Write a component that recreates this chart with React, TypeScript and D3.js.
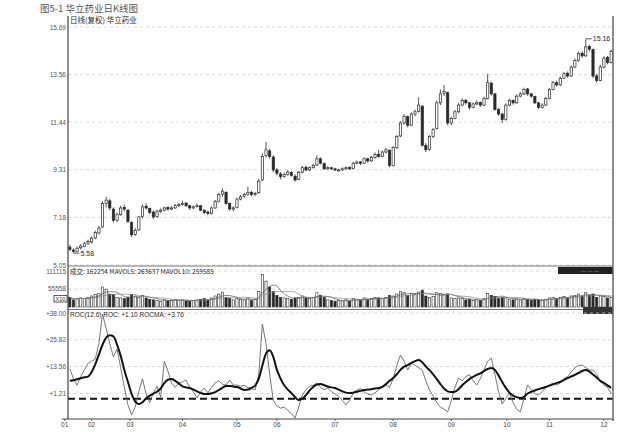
import React from "react";
import * as d3 from "d3";

// [open, high, low, close]
const ohlc: [number, number, number, number][] = [
  [5.85, 5.95, 5.68, 5.75], [5.72, 5.80, 5.58, 5.65], [5.65, 5.88, 5.62, 5.80], [5.82, 5.98, 5.75, 5.90],
  [5.88, 6.08, 5.84, 6.00], [6.02, 6.18, 5.95, 6.10], [6.08, 6.32, 6.02, 6.25], [6.26, 6.58, 6.20, 6.50],
  [6.48, 6.80, 6.42, 6.70], [6.75, 7.90, 6.70, 7.80], [7.80, 8.10, 7.62, 7.95], [7.92, 8.00, 7.50, 7.60],
  [7.55, 7.62, 6.95, 7.05], [7.05, 7.40, 6.98, 7.30], [7.30, 7.70, 7.25, 7.60], [7.62, 7.75, 7.45, 7.55],
  [7.50, 7.55, 6.92, 7.00], [6.95, 7.00, 6.30, 6.40], [6.42, 6.70, 6.35, 6.60], [6.62, 7.25, 6.58, 7.20],
  [7.22, 7.75, 7.15, 7.65], [7.68, 7.80, 7.52, 7.60], [7.58, 7.62, 7.32, 7.40], [7.42, 7.48, 7.10, 7.20],
  [7.22, 7.52, 7.15, 7.45], [7.45, 7.58, 7.38, 7.50], [7.50, 7.66, 7.45, 7.60], [7.62, 7.68, 7.48, 7.55],
  [7.55, 7.68, 7.50, 7.60], [7.60, 7.78, 7.56, 7.70], [7.70, 7.82, 7.64, 7.75], [7.76, 7.92, 7.70, 7.80],
  [7.82, 7.85, 7.64, 7.70], [7.70, 7.74, 7.52, 7.60], [7.60, 7.72, 7.55, 7.65], [7.66, 7.80, 7.62, 7.70],
  [7.70, 7.72, 7.45, 7.50], [7.50, 7.55, 7.32, 7.40], [7.42, 7.48, 7.28, 7.35], [7.35, 7.66, 7.30, 7.60],
  [7.60, 7.96, 7.56, 7.90], [7.90, 8.28, 7.85, 8.20], [8.22, 8.48, 8.10, 8.35], [8.30, 8.34, 7.74, 7.80],
  [7.80, 7.84, 7.48, 7.55], [7.55, 7.68, 7.45, 7.60], [7.62, 8.06, 7.58, 8.00], [8.00, 8.18, 7.94, 8.10],
  [8.12, 8.28, 8.05, 8.20], [8.20, 8.55, 8.15, 8.30], [8.30, 8.36, 8.12, 8.20], [8.20, 8.32, 8.14, 8.25],
  [8.28, 8.90, 8.24, 8.80], [8.85, 10.05, 8.80, 9.90], [9.95, 10.55, 9.85, 10.20], [10.15, 10.25, 9.80, 9.90],
  [9.88, 9.95, 9.20, 9.30], [9.30, 9.38, 9.05, 9.15], [9.12, 9.20, 8.88, 9.00], [9.00, 9.18, 8.95, 9.10],
  [9.10, 9.30, 9.04, 9.20], [9.18, 9.25, 9.00, 9.05], [9.02, 9.10, 8.78, 8.85], [8.88, 9.25, 8.84, 9.20],
  [9.20, 9.48, 9.15, 9.40], [9.42, 9.50, 9.24, 9.30], [9.30, 9.46, 9.25, 9.40], [9.40, 9.58, 9.36, 9.50],
  [9.52, 9.95, 9.48, 9.80], [9.80, 9.86, 9.55, 9.60], [9.58, 9.64, 9.30, 9.35], [9.35, 9.46, 9.30, 9.40],
  [9.40, 9.44, 9.30, 9.35], [9.35, 9.40, 9.25, 9.30], [9.30, 9.36, 9.24, 9.30], [9.30, 9.42, 9.26, 9.35],
  [9.35, 9.46, 9.30, 9.40], [9.42, 9.45, 9.30, 9.35], [9.36, 9.66, 9.32, 9.60], [9.60, 9.72, 9.55, 9.65],
  [9.66, 9.70, 9.52, 9.60], [9.60, 9.86, 9.56, 9.80], [9.80, 9.84, 9.62, 9.70], [9.70, 9.92, 9.66, 9.85],
  [9.86, 10.08, 9.80, 10.00], [10.00, 10.20, 9.85, 9.90], [9.90, 10.16, 9.86, 10.10], [10.10, 10.28, 10.04, 10.20],
  [10.18, 10.22, 9.42, 9.50], [9.50, 10.36, 9.46, 10.30], [10.30, 10.86, 10.24, 10.80], [10.82, 11.48, 10.76, 11.40],
  [11.40, 11.80, 11.32, 11.70], [11.68, 11.74, 11.20, 11.30], [11.30, 11.88, 11.26, 11.80], [11.80, 12.00, 11.70, 11.90],
  [11.92, 12.55, 11.86, 12.20], [12.15, 12.20, 10.35, 10.40], [10.40, 10.50, 10.10, 10.20], [10.22, 10.86, 10.16, 10.80],
  [10.80, 11.18, 10.72, 11.10], [11.15, 12.40, 11.10, 12.30], [12.30, 12.90, 12.20, 12.70], [12.72, 13.10, 12.60, 12.80],
  [12.75, 12.80, 11.30, 11.40], [11.40, 11.68, 11.30, 11.60], [11.60, 11.98, 11.56, 11.90], [11.90, 12.30, 11.84, 12.20],
  [12.20, 12.50, 12.14, 12.40], [12.42, 12.46, 12.22, 12.30], [12.30, 12.34, 12.00, 12.10], [12.10, 12.32, 12.06, 12.25],
  [12.25, 12.40, 12.20, 12.30], [12.32, 12.36, 12.12, 12.20], [12.20, 12.58, 12.16, 12.50], [12.50, 13.60, 12.45, 13.20],
  [13.18, 13.25, 12.62, 12.70], [12.70, 12.74, 11.95, 12.00], [12.00, 12.06, 11.72, 11.80], [11.80, 11.85, 11.40, 11.55],
  [11.55, 12.28, 11.50, 12.20], [12.20, 12.48, 12.14, 12.40], [12.40, 12.46, 12.22, 12.30], [12.30, 12.68, 12.26, 12.60],
  [12.60, 12.78, 12.55, 12.70], [12.70, 12.98, 12.65, 12.90], [12.92, 12.96, 12.62, 12.70], [12.70, 12.74, 12.52, 12.60],
  [12.58, 12.62, 12.24, 12.30], [12.30, 12.34, 12.02, 12.10], [12.10, 12.28, 12.04, 12.20], [12.20, 12.56, 12.16, 12.50],
  [12.50, 12.96, 12.46, 12.90], [12.90, 13.28, 12.86, 13.20], [13.20, 13.30, 13.02, 13.10], [13.10, 13.48, 13.06, 13.40],
  [13.40, 13.68, 13.36, 13.60], [13.62, 13.70, 13.42, 13.50], [13.50, 13.96, 13.46, 13.90], [13.90, 14.28, 13.86, 14.20],
  [14.20, 14.58, 14.14, 14.50], [14.52, 14.60, 14.30, 14.40], [14.40, 15.16, 14.36, 14.80], [14.82, 14.90, 14.60, 14.70],
  [14.68, 14.72, 13.40, 13.50], [13.50, 13.60, 13.20, 13.30], [13.30, 14.00, 13.26, 13.90], [13.90, 14.38, 13.84, 14.30],
  [14.32, 14.40, 14.02, 14.10], [14.10, 14.68, 14.06, 14.60],
];

const volumes = [
  30000, 22000, 25000, 28000, 26000, 30000, 34000, 38000, 42000, 62000,
  55000, 40000, 38000, 30000, 28000, 26000, 30000, 38000, 34000, 30000,
  36000, 28000, 24000, 22000, 20000, 18000, 22000, 19000, 21000, 24000,
  20000, 22000, 19000, 18000, 20000, 22000, 24000, 26000, 22000, 28000,
  34000, 40000, 46000, 30000, 26000, 22000, 26000, 24000, 22000, 28000,
  20000, 24000, 48000, 100000, 80000, 62000, 48000, 36000, 30000, 28000,
  26000, 24000, 28000, 30000, 34000, 28000, 26000, 30000, 44000, 36000,
  30000, 22000, 20000, 18000, 20000, 19000, 22000, 18000, 26000, 24000,
  22000, 28000, 24000, 26000, 30000, 28000, 26000, 30000, 36000, 34000,
  40000, 48000, 44000, 36000, 42000, 38000, 46000, 52000, 34000, 30000,
  32000, 44000, 42000, 38000, 40000, 28000, 26000, 28000, 26000, 22000,
  24000, 20000, 22000, 20000, 26000, 42000, 36000, 32000, 28000, 30000,
  28000, 24000, 22000, 24000, 22000, 26000, 22000, 20000, 24000, 22000,
  20000, 24000, 28000, 30000, 26000, 30000, 32000, 28000, 34000, 36000,
  40000, 34000, 44000, 36000, 40000, 30000, 34000, 32000, 28000, 30000,
];

const roc = [
  12.5, 8.0, 5.0, 9.0, 12.0, 15.0, 16.0, 17.0, 24.0, 37.5,
  31.0, 24.0, 18.0, 21.5, 13.0, 4.0, -4.0, -8.5, -5.0, 2.0,
  8.0, 1.0, -3.0, 1.5, 4.5, -0.5, 16.0, 11.5, 6.0, 4.0,
  6.0, 6.5, 7.4, 4.0, 2.0, -0.8, 2.0, 3.7, 1.5, 4.0,
  6.0, 7.0, 5.5, 5.0, 7.4, 5.0, 5.1, 4.5, 5.0, 4.0,
  3.5, 2.8, 10.0, 33.0, 24.0, 10.0, -2.0, -4.5, -5.5, -5.0,
  -6.5, -8.0, -10.0, -5.0, 0.5, 3.0, 4.5, 5.0, 6.0, 4.0,
  3.0, 3.7, 2.0, 1.0, 0.0, -2.0, -4.0, -2.0, 1.5, 2.8,
  3.5, 2.0, 1.0, 0.5, 1.5, 3.0, 4.0, 5.1, 4.0, 8.0,
  14.0, 18.8, 16.0, 12.0, 15.0, 14.2, 13.0, 11.9, 7.0, 2.8,
  0.0, -3.0, -5.0, -6.0, -7.2, -2.0, 4.0, 8.3, 7.0, 9.0,
  9.7, 7.0, 5.1, 8.0, 12.0, 16.0, 17.4, 10.0, 2.0, -3.6,
  -1.0, 1.5, -3.0, -6.0, -7.2, -1.0, 5.1, 3.0, 1.0, 0.5,
  2.0, 4.0, 5.1, 6.0, 5.1, 6.0, 8.0, 9.0, 11.0, 13.0,
  14.0, 14.2, 13.0, 12.0, 11.9, 10.0, 7.0, 5.1, 4.0, 1.1,
];

const rocma = [
  7.0, 7.3, 7.7, 8.2, 8.6, 8.9, 11.0, 14.5, 19.0, 23.5,
  26.8, 27.8, 27.3, 23.5, 18.5, 12.0, 6.5, 1.0, -2.5, -3.6,
  -2.8, -1.0, 0.2, 1.2, 2.0, 3.5, 6.0, 7.5, 7.8, 7.0,
  5.8, 4.5, 4.0, 3.7, 3.0, 2.2, 1.5, 1.0, 1.0, 1.3,
  1.8, 2.8, 3.8, 4.6, 4.6, 4.4, 4.2, 3.5, 2.8, 3.0,
  3.8, 4.8, 8.0, 14.0, 19.5, 21.0, 18.0, 12.0, 8.0, 5.0,
  3.0, 1.4, -0.5, -1.8, -1.2, 0.5, 2.6, 4.2, 5.3, 5.5,
  5.0, 4.4, 4.0, 3.7, 3.0, 2.2, 1.6, 1.4, 1.6, 2.0,
  2.4, 2.8, 3.0, 3.2, 3.5, 3.7, 4.2, 5.5, 7.0, 8.3,
  10.0, 12.0, 13.5, 14.2, 15.2, 16.0, 16.5, 15.5, 13.5, 11.9,
  10.0, 7.8, 5.5, 3.5, 2.2, 1.9, 2.0, 3.2, 5.0, 6.5,
  7.8, 8.8, 9.7, 10.4, 11.5, 12.4, 12.9, 12.0, 9.5, 6.5,
  3.8, 1.6, 0.2, -0.5, -0.8, -0.3, 1.2, 2.0, 2.6, 3.2,
  3.7, 4.2, 4.8, 5.4, 6.0, 6.6, 7.4, 8.2, 9.0, 9.7,
  10.6, 11.5, 11.9, 11.2, 9.9, 8.5, 7.0, 6.0, 4.9, 3.76,
];

const priceTicks = [15.69, 13.56, 11.44, 9.31, 7.18, 5.05];
const volTickValues = [111115, 55558];
const rocTicks = [38.0, 25.82, 13.56, 1.21];
const monthLabels = ["01", "02", "03", "04", "05", "06", "07", "08", "09", "10", "11", "12"];
const monthPositions = [-1.4, 6, 16.6, 31, 46, 57, 73, 89, 105, 120.3, 132, 147];
const rocRefLine = -1.2;
const highLabel = "15.16";
const lowLabel = "5.58";
const captionText = "图5-1  华立药业日K线图";
const headerText = "日线(复权)  华立药业";
const volLegend = "成交: 162254  MAVOL5: 263637  MAVOL10: 259585";
const rocLegend = "ROC(12,6) ROC: +1.10  ROCMA: +3.76";
const volUnitLabel = "X10";

const L = 68;
const R = 613;
const FONT = "'Liberation Sans', 'DejaVu Sans', 'Noto Sans CJK SC', sans-serif";
const INK = "#2a2a2a";

export default function App() {
  const n = ohlc.length;
  const xPos = d3.scaleLinear().domain([-0.5, n - 0.5]).range([L, R]);
  const step = (R - L) / n;
  const bw = step * 0.62;

  const yP = d3.scaleLinear().domain([5.05, 15.69]).range([265, 27]);
  const yV = d3.scaleLinear().domain([0, 111115]).range([307, 271]);
  const yR = d3.scaleLinear().domain([-10, 39.4]).range([418, 310]);

  const ma = (k: number) =>
    volumes.map((_, i) => d3.mean(volumes.slice(Math.max(0, i - k + 1), i + 1)) as number);
  const mav5 = ma(5);
  const mav10 = ma(10);

  const volLine = d3
    .line<number>()
    .x((_, i) => xPos(i))
    .y((d) => yV(d))
    .curve(d3.curveMonotoneX);
  const rocLine = d3
    .line<number>()
    .x((_, i) => xPos(i))
    .y((d) => yR(d));
  const rocmaLine = d3
    .line<number>()
    .x((_, i) => xPos(i))
    .y((d) => yR(d))
    .curve(d3.curveMonotoneX);

  const hiIdx = d3.maxIndex(ohlc, (d) => d[1]);
  const loIdx = d3.minIndex(ohlc, (d) => d[2]);

  return (
    <svg
      width={640}
      height={437}
      style={{ position: "absolute", left: 0, top: 0, background: "#fff" }}
      fontFamily={FONT}
    >
      <rect x={0} y={0} width={640} height={437} fill="#fff" />
      {/* caption */}
      <text x={40} y={12} fontSize={9.5} fill="#555" fontFamily="'Noto Sans CJK SC', sans-serif">
        {captionText}
      </text>

      {/* header */}
      <text x={70} y={23} fontSize={7.5} fill={INK} fontFamily="'Noto Sans CJK SC', sans-serif">
        {headerText}
      </text>

      {/* price grid */}
      {priceTicks.map((t) => (
        <g key={"pt" + t}>
          <line x1={L} x2={R} y1={yP(t)} y2={yP(t)} stroke="#cfcfcf" strokeWidth={0.8} strokeDasharray="3,3" />
          <text x={L - 2} y={yP(t) + 2.5} fontSize={6.5} textAnchor="end" fill="#555">
            {t.toFixed(2)}
          </text>
        </g>
      ))}

      {/* candles */}
      {ohlc.map(([o, h, l, c], i) => {
        const x = xPos(i);
        const up = c >= o;
        const top = yP(Math.max(o, c));
        const bot = yP(Math.min(o, c));
        return (
          <g key={"c" + i}>
            <line x1={x} x2={x} y1={yP(h)} y2={yP(l)} stroke={INK} strokeWidth={0.8} />
            <rect
              x={x - bw / 2}
              y={top}
              width={bw}
              height={Math.max(1, bot - top)}
              fill={up ? "#fff" : INK}
              stroke={INK}
              strokeWidth={0.7}
            />
          </g>
        );
      })}

      {/* high / low annotations */}
      <line x1={xPos(hiIdx)} x2={xPos(hiIdx) + 6} y1={yP(ohlc[hiIdx][1])} y2={yP(ohlc[hiIdx][1])} stroke={INK} strokeWidth={0.8} />
      <text x={xPos(hiIdx) + 7} y={yP(ohlc[hiIdx][1]) + 2.5} fontSize={7} fill={INK}>
        {highLabel}
      </text>
      <line x1={xPos(loIdx)} x2={xPos(loIdx) + 6} y1={yP(ohlc[loIdx][2])} y2={yP(ohlc[loIdx][2])} stroke={INK} strokeWidth={0.8} />
      <text x={xPos(loIdx) + 7} y={yP(ohlc[loIdx][2]) + 2.5} fontSize={7} fill={INK}>
        {lowLabel}
      </text>

      {/* panel separators */}
      <line x1={L} x2={R} y1={266} y2={266} stroke="#777" strokeWidth={1} />
      <line x1={L} x2={R} y1={309.5} y2={309.5} stroke="#777" strokeWidth={1} />

      {/* volume panel */}
      {volTickValues.map((t) => (
        <g key={"vt" + t}>
          <line x1={L} x2={R} y1={yV(t)} y2={yV(t)} stroke="#cfcfcf" strokeWidth={0.8} strokeDasharray="3,3" />
          <text x={L - 2} y={yV(t) + 2.5} fontSize={6.5} textAnchor="end" fill="#555">
            {String(t)}
          </text>
        </g>
      ))}
      <rect x={54} y={295.5} width={13} height={6.5} fill="#fff" stroke="#333" strokeWidth={0.8} />
      <text x={60.5} y={301} fontSize={5.5} textAnchor="middle" fill="#333">
        {volUnitLabel}
      </text>
      <text x={70} y={273.5} fontSize={6.5} fill={INK} fontFamily="'Noto Sans CJK SC', sans-serif">
        {volLegend}
      </text>
      {volumes.map((v, i) => {
        const [o, , , c] = ohlc[i];
        const up = c >= o;
        const x = xPos(i);
        return (
          <rect
            key={"v" + i}
            x={x - bw / 2}
            y={yV(v)}
            width={bw}
            height={yV(0) - yV(v)}
            fill={up ? "#fff" : INK}
            stroke={INK}
            strokeWidth={0.6}
          />
        );
      })}
      <path d={volLine(mav5) || ""} fill="none" stroke="#555" strokeWidth={0.7} />
      <path d={volLine(mav10) || ""} fill="none" stroke="#888" strokeWidth={0.7} />
      <rect x={558} y={267} width={55} height={7} fill="#222" />
      <text x={590} y={272.5} fontSize={5} fill="#999" textAnchor="middle">
        — — —
      </text>
      <rect x={583} y={307} width={30} height={7} fill="#333" />

      {/* ROC panel */}
      {rocTicks.map((t) => (
        <g key={"rt" + t}>
          <line x1={L} x2={R} y1={yR(t)} y2={yR(t)} stroke="#cfcfcf" strokeWidth={0.8} strokeDasharray="3,3" />
          <text x={L - 2} y={yR(t) + 2.5} fontSize={6.5} textAnchor="end" fill="#555">
            {"+" + t.toFixed(2)}
          </text>
        </g>
      ))}
      <text x={70} y={317} fontSize={6.5} fill={INK}>
        {rocLegend}
      </text>
      <line
        x1={L}
        x2={R}
        y1={yR(rocRefLine)}
        y2={yR(rocRefLine)}
        stroke="#111"
        strokeWidth={2}
        strokeDasharray="7,4"
      />
      <path d={rocLine(roc) || ""} fill="none" stroke="#666" strokeWidth={0.9} />
      <path d={rocmaLine(rocma) || ""} fill="none" stroke="#111" strokeWidth={2} />

      {/* axes frame */}
      <line x1={L} x2={L} y1={16} y2={419} stroke="#444" strokeWidth={1.2} />
      <line x1={R} x2={R} y1={16} y2={421} stroke="#666" strokeWidth={1.5} />
      <line x1={L - 6} x2={R} y1={419} y2={419} stroke="#444" strokeWidth={1} />
      {monthLabels.map((m, k) => (
        <g key={"m" + m}>
          <line x1={xPos(monthPositions[k])} x2={xPos(monthPositions[k])} y1={419} y2={421} stroke="#444" strokeWidth={0.8} />
          <text x={xPos(monthPositions[k])} y={427} fontSize={6.5} textAnchor="middle" fill="#444">
            {m}
          </text>
        </g>
      ))}
    </svg>
  );
}
